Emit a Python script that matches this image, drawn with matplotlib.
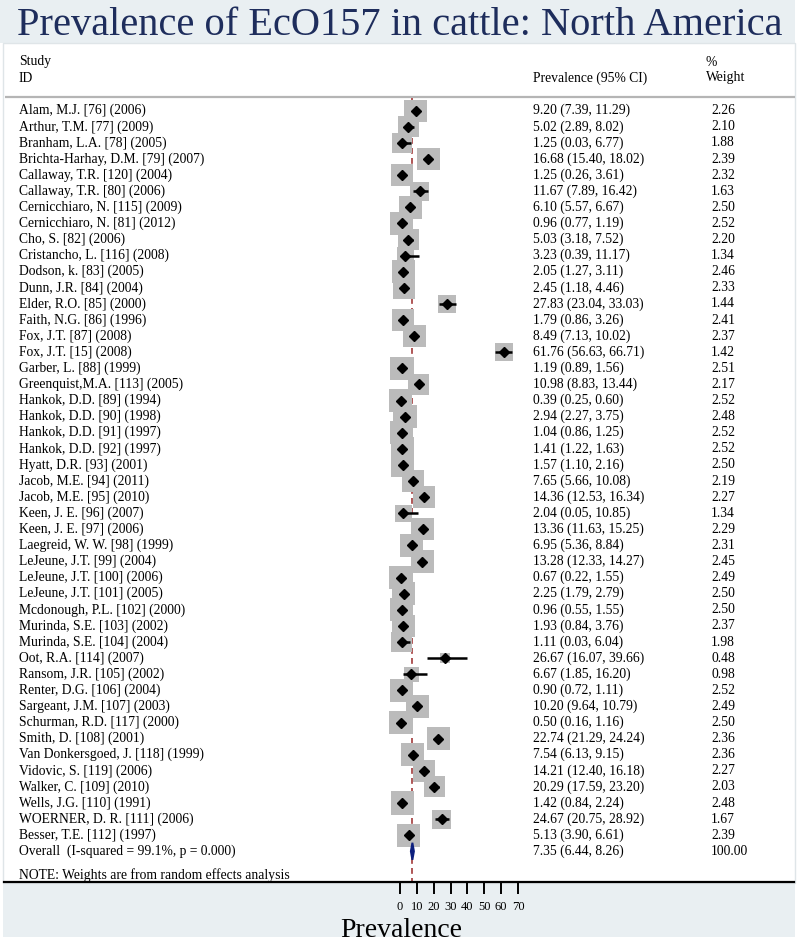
import matplotlib
matplotlib.use('Agg')
import matplotlib.pyplot as plt
from matplotlib.patches import Rectangle, Polygon
from matplotlib.transforms import blended_transform_factory

plt.rcParams['font.family'] = ['Liberation Serif', 'DejaVu Serif']

studies = [
    'Alam, M.J. [76] (2006)', 'Arthur, T.M. [77] (2009)', 'Branham, L.A. [78] (2005)',
    'Brichta-Harhay, D.M. [79] (2007)', 'Callaway, T.R. [120] (2004)', 'Callaway, T.R. [80] (2006)',
    'Cernicchiaro, N. [115] (2009)', 'Cernicchiaro, N. [81] (2012)', 'Cho, S. [82] (2006)',
    'Cristancho, L. [116] (2008)', 'Dodson, k. [83] (2005)', 'Dunn, J.R. [84] (2004)',
    'Elder, R.O. [85] (2000)', 'Faith, N.G. [86] (1996)', 'Fox, J.T. [87] (2008)',
    'Fox, J.T. [15] (2008)', 'Garber, L. [88] (1999)', 'Greenquist,M.A. [113] (2005)',
    'Hankok, D.D. [89] (1994)', 'Hankok, D.D. [90] (1998)', 'Hankok, D.D. [91] (1997)',
    'Hankok, D.D. [92] (1997)', 'Hyatt, D.R. [93] (2001)', 'Jacob, M.E. [94] (2011)',
    'Jacob, M.E. [95] (2010)', 'Keen, J. E. [96] (2007)', 'Keen, J. E. [97] (2006)',
    'Laegreid, W. W. [98] (1999)', 'LeJeune, J.T. [99] (2004)', 'LeJeune, J.T. [100] (2006)',
    'LeJeune, J.T. [101] (2005)', 'Mcdonough, P.L. [102] (2000)', 'Murinda, S.E. [103] (2002)',
    'Murinda, S.E. [104] (2004)', 'Oot, R.A. [114] (2007)', 'Ransom, J.R. [105] (2002)',
    'Renter, D.G. [106] (2004)', 'Sargeant, J.M. [107] (2003)', 'Schurman, R.D. [117] (2000)',
    'Smith, D. [108] (2001)', 'Van Donkersgoed, J. [118] (1999)', 'Vidovic, S. [119] (2006)',
    'Walker, C. [109] (2010)', 'Wells, J.G. [110] (1991)', 'WOERNER, D. R. [111] (2006)',
    'Besser, T.E. [112] (1997)',
]
est = [9.20, 5.02, 1.25, 16.68, 1.25, 11.67, 6.10, 0.96, 5.03, 3.23, 2.05, 2.45,
       27.83, 1.79, 8.49, 61.76, 1.19, 10.98, 0.39, 2.94, 1.04, 1.41, 1.57, 7.65,
       14.36, 2.04, 13.36, 6.95, 13.28, 0.67, 2.25, 0.96, 1.93, 1.11, 26.67, 6.67,
       0.90, 10.20, 0.50, 22.74, 7.54, 14.21, 20.29, 1.42, 24.67, 5.13]
lo = [7.39, 2.89, 0.03, 15.40, 0.26, 7.89, 5.57, 0.77, 3.18, 0.39, 1.27, 1.18,
      23.04, 0.86, 7.13, 56.63, 0.89, 8.83, 0.25, 2.27, 0.86, 1.22, 1.10, 5.66,
      12.53, 0.05, 11.63, 5.36, 12.33, 0.22, 1.79, 0.55, 0.84, 0.03, 16.07, 1.85,
      0.72, 9.64, 0.16, 21.29, 6.13, 12.40, 17.59, 0.84, 20.75, 3.90]
hi = [11.29, 8.02, 6.77, 18.02, 3.61, 16.42, 6.67, 1.19, 7.52, 11.17, 3.11, 4.46,
      33.03, 3.26, 10.02, 66.71, 1.56, 13.44, 0.60, 3.75, 1.25, 1.63, 2.16, 10.08,
      16.34, 10.85, 15.25, 8.84, 14.27, 1.55, 2.79, 1.55, 3.76, 6.04, 39.66, 16.20,
      1.11, 10.79, 1.16, 24.24, 9.15, 16.18, 23.20, 2.24, 28.92, 6.61]
weight = [2.26, 2.10, 1.88, 2.39, 2.32, 1.63, 2.50, 2.52, 2.20, 1.34, 2.46, 2.33,
          1.44, 2.41, 2.37, 1.42, 2.51, 2.17, 2.52, 2.48, 2.52, 2.52, 2.50, 2.19,
          2.27, 1.34, 2.29, 2.31, 2.45, 2.49, 2.50, 2.50, 2.37, 1.98, 0.48, 0.98,
          2.52, 2.49, 2.50, 2.36, 2.36, 2.27, 2.03, 2.48, 1.67, 2.39]
overall_label = 'Overall  (I-squared = 99.1%, p = 0.000)'
overall_est, overall_lo, overall_hi = 7.35, 6.44, 8.26
xticks = [0, 10, 20, 30, 40, 50, 60, 70]

W, H = 799, 942
X0, XS = 400.0, 118.0 / 70   # pixel of 0 and pixels per unit
Y0, YS = 110.7, 16.1          # pixel of first row and row spacing


def px2x(p):
    return (p - X0) / XS


def py2row(p):
    return (p - Y0) / YS


band = '#e9eff2'
fig = plt.figure(figsize=(W / 100, H / 100), dpi=100)
fig.patch.set_facecolor('white')


def rect(x0, y0, x1, y1, **kw):
    fig.patches.append(Rectangle((x0 / W, 1 - y1 / H), (x1 - x0) / W, (y1 - y0) / H,
                                 transform=fig.transFigure, zorder=-5, **kw))


rect(0, 0, 795, 43, facecolor=band, edgecolor='none')
rect(3, 883, 795, 937, facecolor=band, edgecolor='none')
rect(3, 43, 795, 883, facecolor='white', edgecolor='#dfe5e8', linewidth=1)

ax = fig.add_axes([0, 0, 1, 1])
ax.set_zorder(2)
ax.set_facecolor('none')
ax.set_xlim(px2x(0), px2x(W))
ax.set_ylim(py2row(H), py2row(0))
for s in ['top', 'left', 'right']:
    ax.spines[s].set_visible(False)
ax.spines['bottom'].set_position(('data', py2row(882)))
ax.spines['bottom'].set_bounds(px2x(4), px2x(794))
ax.spines['bottom'].set_linewidth(1.6)
ax.set_yticks([])
ax.set_xticks(xticks)
ax.tick_params(axis='x', direction='out', length=8.5, width=1.4, labelsize=9, pad=5)

n = len(studies)
rows = list(range(n))

# header separator
ax.hlines(py2row(97), px2x(5), px2x(795), color='#b5b5b5', linewidth=1.6, zorder=1)
# overall line
ax.vlines(overall_est, py2row(98), py2row(882), color='#a23a3a', linewidth=1.2,
          linestyles=(0, (3.5, 2.5)), zorder=1)

ax.scatter(est, rows, marker='s', s=[113 * w for w in weight], color='#bbbbbb',
           edgecolors='none', zorder=2)
ax.hlines(rows, lo, hi, color='black', linewidth=1.8, zorder=3)
ax.plot(est, rows, linestyle='', marker='D', markersize=5, color='black', zorder=4)

r = n
ax.add_patch(Polygon([(overall_lo, r), (overall_est, r - 0.53), (overall_hi, r),
                      (overall_est, r + 0.53)], closed=True, facecolor='#0d1f7e',
                     edgecolor='#0d1f7e', linewidth=1.4, zorder=4))

tr = blended_transform_factory(fig.transFigure, ax.transData)
fs = 9.85
for i, name in enumerate(studies):
    ax.text(19 / W, i, name, transform=tr, fontsize=fs, va='center')
    ax.text(533 / W, i, '%.2f (%.2f, %.2f)' % (est[i], lo[i], hi[i]), transform=tr,
            fontsize=fs, va='center')
    ax.text(711 / W, i, '%.2f' % weight[i], transform=tr, fontsize=fs, va='center')
ax.text(19 / W, r, overall_label, transform=tr, fontsize=fs, va='center')
ax.text(533 / W, r, '%.2f (%.2f, %.2f)' % (overall_est, overall_lo, overall_hi),
        transform=tr, fontsize=fs, va='center')
ax.text(711 / W, r, '100.00', transform=tr, fontsize=fs, va='center')

fig.text(19 / W, 1 - 875 / H, 'NOTE: Weights are from random effects analysis',
         fontsize=fs, va='center')
fig.text(19 / W, 1 - 62 / H, 'Study', fontsize=fs, va='center')
fig.text(19 / W, 1 - 78 / H, 'ID', fontsize=fs, va='center')
fig.text(533 / W, 1 - 78 / H, 'Prevalence (95% CI)', fontsize=fs, va='center')
fig.text(706 / W, 1 - 62 / H, '%', fontsize=fs, va='center')
fig.text(706 / W, 1 - 78 / H, 'Weight', fontsize=fs, va='center')

fig.text(401 / W, 1 - 937 / H, 'Prevalence', fontsize=20, ha='center', va='baseline')

fig.text(400 / W, 1 - 35 / H, 'Prevalence of EcO157 in cattle: North America',
         fontsize=29.2, color='#1e2d5c', ha='center', va='baseline')

fig.savefig('out.png', dpi=100)
